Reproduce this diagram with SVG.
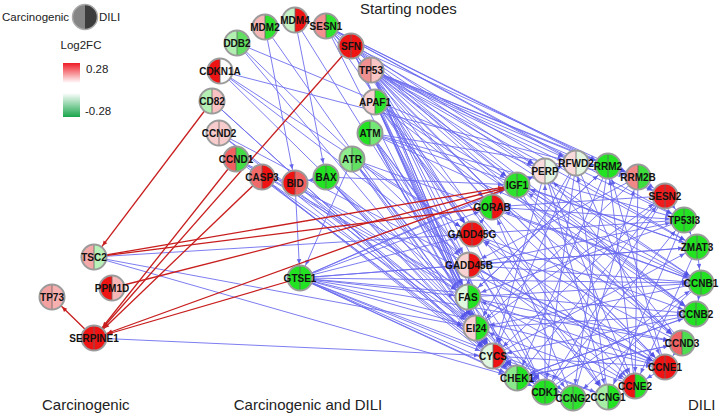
<svg xmlns="http://www.w3.org/2000/svg" xmlns:xlink="http://www.w3.org/1999/xlink" width="720" height="416" viewBox="0 0 720 416">
<style>
.e{stroke:#6c6cf0;stroke-width:1;opacity:.88;marker-end:url(#ab)}
.r{stroke:#c81e1e;stroke-width:1.3;marker-end:url(#ar)}
.t{font:bold 10px "Liberation Sans",Arial,sans-serif;text-anchor:middle;fill:#111}
.lb{font:15px "Liberation Sans",Arial,sans-serif;fill:#222}
.lg{font:11.5px "Liberation Sans",Arial,sans-serif;fill:#222}
</style>
<defs>
<marker id="ab" markerUnits="userSpaceOnUse" markerWidth="8" markerHeight="8" refX="19" refY="2.25" orient="auto" overflow="visible"><path d="M0,0L5,2.25L0,4.5z" fill="#5050e6"/></marker>
<marker id="ar" markerUnits="userSpaceOnUse" markerWidth="8" markerHeight="8" refX="19" refY="2.25" orient="auto" overflow="visible"><path d="M0,0L5,2.25L0,4.5z" fill="#c81e1e"/></marker>
<path id="L" d="M0,-12.5A12.5,12.5 0 0 0 0,12.5Z"/>
<path id="R" d="M0,-12.5A12.5,12.5 0 0 1 0,12.5Z"/>
<g id="ring"><line x1="0" y1="-12.5" x2="0" y2="12.5" stroke="#666" stroke-width="0.8"/><circle r="12.5" fill="none" stroke="#9b9b9b" stroke-width="2"/></g>
<linearGradient id="gr" x1="0" y1="0" x2="0" y2="1"><stop offset="0" stop-color="#ee1c25"/><stop offset="1" stop-color="#fff"/></linearGradient>
<linearGradient id="gg" x1="0" y1="0" x2="0" y2="1"><stop offset="0" stop-color="#fff"/><stop offset="1" stop-color="#19a64a"/></linearGradient>
</defs>
<rect width="720" height="416" fill="#fff"/>

<g id="legend">
<text class="lg" x="2" y="21">Carcinogenic</text>
<g transform="translate(85,17)"><use href="#L" fill="#858585"/><use href="#R" fill="#3c3c3c"/><circle r="12.5" fill="none" stroke="#aaa" stroke-width="1.5"/></g>
<text class="lg" x="99" y="21">DILI</text>
<text class="lg" x="81" y="49" text-anchor="middle">Log2FC</text>
<rect x="63" y="63" width="17" height="20" fill="url(#gr)"/>
<rect x="63" y="93" width="17" height="24" fill="url(#gg)"/>
<text class="lg" x="86" y="73">0.28</text>
<text class="lg" x="85" y="115">-0.28</text>
</g>

<g id="labels">
<text class="lb" x="360" y="14">Starting nodes</text>
<text class="lb" x="42" y="410">Carcinogenic</text>
<text class="lb" x="308" y="410" text-anchor="middle">Carcinogenic and DILI</text>
<text class="lb" x="688" y="410">DILI</text>
</g>

<g id="connectors">
<line class="e" x1="265" y1="27" x2="295" y2="183"/>
<line class="e" x1="265" y1="27" x2="476" y2="328"/>
<line class="e" x1="295" y1="20" x2="326" y2="177"/>
<line class="e" x1="295" y1="20" x2="468" y2="297"/>
<line class="e" x1="237" y1="43" x2="545" y2="171"/>
<line class="e" x1="237" y1="43" x2="469" y2="265"/>
<line class="e" x1="237" y1="43" x2="476" y2="328"/>
<line class="e" x1="220" y1="71" x2="576" y2="163"/>
<line class="e" x1="220" y1="71" x2="635" y2="386"/>
<line class="e" x1="220" y1="71" x2="545" y2="392"/>
<line class="e" x1="220" y1="71" x2="472" y2="234"/>
<line class="e" x1="212" y1="101" x2="493" y2="356"/>
<line class="e" x1="212" y1="101" x2="517" y2="378"/>
<line class="e" x1="219" y1="133" x2="545" y2="392"/>
<line class="e" x1="219" y1="133" x2="573" y2="398"/>
<line class="e" x1="219" y1="133" x2="665" y2="367"/>
<line class="e" x1="236" y1="159" x2="545" y2="392"/>
<line class="e" x1="236" y1="159" x2="665" y2="367"/>
<line class="e" x1="236" y1="159" x2="635" y2="386"/>
<line class="e" x1="236" y1="159" x2="468" y2="297"/>
<line class="e" x1="262" y1="177" x2="493" y2="356"/>
<line class="e" x1="262" y1="177" x2="476" y2="328"/>
<line class="e" x1="262" y1="177" x2="517" y2="378"/>
<line class="e" x1="295" y1="183" x2="300" y2="278"/>
<line class="e" x1="295" y1="183" x2="493" y2="356"/>
<line class="e" x1="295" y1="183" x2="476" y2="328"/>
<line class="e" x1="295" y1="183" x2="468" y2="297"/>
<line class="e" x1="326" y1="177" x2="295" y2="183"/>
<line class="e" x1="326" y1="177" x2="493" y2="356"/>
<line class="e" x1="326" y1="177" x2="476" y2="328"/>
<line class="e" x1="326" y1="177" x2="517" y2="378"/>
<line class="e" x1="326" y1="177" x2="468" y2="297"/>
<line class="e" x1="326" y1="177" x2="517" y2="185"/>
<line class="e" x1="352" y1="159" x2="300" y2="278"/>
<line class="e" x1="352" y1="159" x2="517" y2="378"/>
<line class="e" x1="352" y1="159" x2="545" y2="392"/>
<line class="e" x1="352" y1="159" x2="493" y2="356"/>
<line class="e" x1="352" y1="159" x2="468" y2="297"/>
<line class="e" x1="352" y1="159" x2="701" y2="283"/>
<line class="e" x1="352" y1="159" x2="472" y2="234"/>
<line class="e" x1="370" y1="133" x2="517" y2="378"/>
<line class="e" x1="370" y1="133" x2="545" y2="392"/>
<line class="e" x1="370" y1="133" x2="573" y2="398"/>
<line class="e" x1="370" y1="133" x2="469" y2="265"/>
<line class="e" x1="370" y1="133" x2="476" y2="328"/>
<line class="e" x1="370" y1="133" x2="701" y2="283"/>
<line class="e" x1="370" y1="133" x2="638" y2="177"/>
<line class="e" x1="370" y1="133" x2="493" y2="356"/>
<line class="e" x1="370" y1="133" x2="684" y2="220"/>
<line class="e" x1="370" y1="133" x2="697" y2="247"/>
<line class="e" x1="375" y1="102" x2="493" y2="356"/>
<line class="e" x1="375" y1="102" x2="476" y2="328"/>
<line class="e" x1="375" y1="102" x2="468" y2="297"/>
<line class="e" x1="375" y1="102" x2="517" y2="378"/>
<line class="e" x1="375" y1="102" x2="696" y2="314"/>
<line class="e" x1="375" y1="102" x2="635" y2="386"/>
<line class="e" x1="375" y1="102" x2="517" y2="185"/>
<line class="e" x1="375" y1="102" x2="682" y2="343"/>
<line class="e" x1="375" y1="102" x2="608" y2="397"/>
<line class="e" x1="375" y1="102" x2="472" y2="234"/>
<line class="e" x1="371" y1="70" x2="545" y2="171"/>
<line class="e" x1="371" y1="70" x2="576" y2="163"/>
<line class="e" x1="371" y1="70" x2="608" y2="166"/>
<line class="e" x1="371" y1="70" x2="638" y2="177"/>
<line class="e" x1="371" y1="70" x2="684" y2="220"/>
<line class="e" x1="371" y1="70" x2="697" y2="247"/>
<line class="e" x1="371" y1="70" x2="701" y2="283"/>
<line class="e" x1="371" y1="70" x2="696" y2="314"/>
<line class="e" x1="371" y1="70" x2="665" y2="367"/>
<line class="e" x1="371" y1="70" x2="545" y2="392"/>
<line class="e" x1="371" y1="70" x2="517" y2="378"/>
<line class="e" x1="371" y1="70" x2="493" y2="356"/>
<line class="e" x1="371" y1="70" x2="476" y2="328"/>
<line class="e" x1="371" y1="70" x2="468" y2="297"/>
<line class="e" x1="371" y1="70" x2="469" y2="265"/>
<line class="e" x1="371" y1="70" x2="472" y2="234"/>
<line class="e" x1="371" y1="70" x2="492" y2="207"/>
<line class="e" x1="371" y1="70" x2="517" y2="185"/>
<line class="e" x1="371" y1="70" x2="665" y2="196"/>
<line class="e" x1="371" y1="70" x2="608" y2="397"/>
<line class="e" x1="371" y1="70" x2="682" y2="343"/>
<line class="e" x1="351" y1="46" x2="701" y2="283"/>
<line class="e" x1="351" y1="46" x2="697" y2="247"/>
<line class="e" x1="351" y1="46" x2="638" y2="177"/>
<line class="e" x1="351" y1="46" x2="682" y2="343"/>
<line class="e" x1="351" y1="46" x2="468" y2="297"/>
<line class="e" x1="351" y1="46" x2="696" y2="314"/>
<line class="e" x1="351" y1="46" x2="476" y2="328"/>
<line class="e" x1="351" y1="46" x2="472" y2="234"/>
<line class="e" x1="326" y1="26" x2="608" y2="166"/>
<line class="e" x1="326" y1="26" x2="576" y2="163"/>
<line class="e" x1="326" y1="26" x2="545" y2="171"/>
<line class="e" x1="326" y1="26" x2="665" y2="196"/>
<line class="e" x1="326" y1="26" x2="684" y2="220"/>
<line class="e" x1="326" y1="26" x2="517" y2="185"/>
<line class="e" x1="326" y1="26" x2="472" y2="234"/>
<line class="e" x1="326" y1="26" x2="492" y2="207"/>
<line class="e" x1="326" y1="26" x2="665" y2="367"/>
<line class="e" x1="326" y1="26" x2="493" y2="356"/>
<line class="e" x1="300" y1="278" x2="476" y2="328"/>
<line class="e" x1="300" y1="278" x2="468" y2="297"/>
<line class="e" x1="300" y1="278" x2="493" y2="356"/>
<line class="e" x1="300" y1="278" x2="517" y2="378"/>
<line class="e" x1="300" y1="278" x2="545" y2="392"/>
<line class="e" x1="300" y1="278" x2="701" y2="283"/>
<line class="e" x1="300" y1="278" x2="696" y2="314"/>
<line class="e" x1="300" y1="278" x2="469" y2="265"/>
<line class="e" x1="300" y1="278" x2="472" y2="234"/>
<line class="e" x1="300" y1="278" x2="517" y2="185"/>
<line class="e" x1="300" y1="278" x2="492" y2="207"/>
<line class="e" x1="300" y1="278" x2="545" y2="171"/>
<line class="e" x1="300" y1="278" x2="665" y2="367"/>
<line class="e" x1="300" y1="278" x2="608" y2="397"/>
<line class="e" x1="300" y1="278" x2="697" y2="247"/>
<line class="e" x1="300" y1="278" x2="682" y2="343"/>
<line class="e" x1="300" y1="278" x2="573" y2="398"/>
<line class="e" x1="94" y1="257" x2="472" y2="234"/>
<line class="e" x1="94" y1="257" x2="476" y2="328"/>
<line class="e" x1="94" y1="257" x2="517" y2="378"/>
<line class="e" x1="94" y1="338" x2="493" y2="356"/>
<line class="e" x1="517" y1="185" x2="545" y2="171"/>
<line class="e" x1="545" y1="171" x2="576" y2="163"/>
<line class="e" x1="576" y1="163" x2="608" y2="166"/>
<line class="e" x1="608" y1="166" x2="638" y2="177"/>
<line class="e" x1="638" y1="177" x2="665" y2="196"/>
<line class="e" x1="665" y1="196" x2="684" y2="220"/>
<line class="e" x1="684" y1="220" x2="697" y2="247"/>
<line class="e" x1="697" y1="247" x2="701" y2="283"/>
<line class="e" x1="701" y1="283" x2="696" y2="314"/>
<line class="e" x1="682" y1="343" x2="665" y2="367"/>
<line class="e" x1="665" y1="367" x2="635" y2="386"/>
<line class="e" x1="493" y1="356" x2="476" y2="328"/>
<line class="e" x1="476" y1="328" x2="468" y2="297"/>
<line class="e" x1="468" y1="297" x2="469" y2="265"/>
<line class="e" x1="472" y1="234" x2="492" y2="207"/>
<line class="e" x1="517" y1="185" x2="701" y2="283"/>
<line class="e" x1="517" y1="185" x2="682" y2="343"/>
<line class="e" x1="517" y1="185" x2="635" y2="386"/>
<line class="e" x1="545" y1="171" x2="635" y2="386"/>
<line class="e" x1="545" y1="171" x2="608" y2="397"/>
<line class="e" x1="545" y1="171" x2="493" y2="356"/>
<line class="e" x1="576" y1="163" x2="545" y2="392"/>
<line class="e" x1="576" y1="163" x2="665" y2="367"/>
<line class="e" x1="576" y1="163" x2="493" y2="356"/>
<line class="e" x1="576" y1="163" x2="476" y2="328"/>
<line class="e" x1="608" y1="166" x2="517" y2="378"/>
<line class="e" x1="608" y1="166" x2="573" y2="398"/>
<line class="e" x1="608" y1="166" x2="468" y2="297"/>
<line class="e" x1="638" y1="177" x2="476" y2="328"/>
<line class="e" x1="638" y1="177" x2="635" y2="386"/>
<line class="e" x1="638" y1="177" x2="469" y2="265"/>
<line class="e" x1="665" y1="196" x2="492" y2="207"/>
<line class="e" x1="665" y1="196" x2="493" y2="356"/>
<line class="e" x1="665" y1="196" x2="545" y2="392"/>
<line class="e" x1="684" y1="220" x2="468" y2="297"/>
<line class="e" x1="684" y1="220" x2="608" y2="397"/>
<line class="e" x1="684" y1="220" x2="472" y2="234"/>
<line class="e" x1="697" y1="247" x2="469" y2="265"/>
<line class="e" x1="697" y1="247" x2="635" y2="386"/>
<line class="e" x1="697" y1="247" x2="517" y2="185"/>
<line class="e" x1="701" y1="283" x2="476" y2="328"/>
<line class="e" x1="701" y1="283" x2="492" y2="207"/>
<line class="e" x1="701" y1="283" x2="573" y2="398"/>
<line class="e" x1="696" y1="314" x2="493" y2="356"/>
<line class="e" x1="696" y1="314" x2="517" y2="185"/>
<line class="e" x1="696" y1="314" x2="517" y2="378"/>
<line class="e" x1="682" y1="343" x2="517" y2="378"/>
<line class="e" x1="682" y1="343" x2="545" y2="171"/>
<line class="e" x1="682" y1="343" x2="472" y2="234"/>
<line class="e" x1="665" y1="367" x2="472" y2="234"/>
<line class="e" x1="665" y1="367" x2="468" y2="297"/>
<line class="e" x1="665" y1="367" x2="608" y2="166"/>
<line class="e" x1="635" y1="386" x2="608" y2="166"/>
<line class="e" x1="635" y1="386" x2="476" y2="328"/>
<line class="e" x1="608" y1="397" x2="576" y2="163"/>
<line class="e" x1="608" y1="397" x2="493" y2="356"/>
<line class="e" x1="573" y1="398" x2="638" y2="177"/>
<line class="e" x1="573" y1="398" x2="492" y2="207"/>
<line class="e" x1="545" y1="392" x2="684" y2="220"/>
<line class="e" x1="545" y1="392" x2="701" y2="283"/>
<line class="e" x1="545" y1="392" x2="545" y2="171"/>
<line class="e" x1="517" y1="378" x2="696" y2="314"/>
<line class="e" x1="517" y1="378" x2="682" y2="343"/>
<line class="e" x1="517" y1="378" x2="665" y2="196"/>
<line class="e" x1="493" y1="356" x2="697" y2="247"/>
<line class="e" x1="493" y1="356" x2="665" y2="367"/>
<line class="e" x1="476" y1="328" x2="665" y2="196"/>
<line class="e" x1="476" y1="328" x2="696" y2="314"/>
<line class="e" x1="468" y1="297" x2="701" y2="283"/>
<line class="e" x1="468" y1="297" x2="608" y2="166"/>
<line class="e" x1="468" y1="297" x2="682" y2="343"/>
<line class="e" x1="469" y1="265" x2="701" y2="283"/>
<line class="e" x1="469" y1="265" x2="665" y2="367"/>
<line class="e" x1="469" y1="265" x2="684" y2="220"/>
<line class="e" x1="472" y1="234" x2="696" y2="314"/>
<line class="e" x1="472" y1="234" x2="545" y2="392"/>
<line class="e" x1="492" y1="207" x2="684" y2="220"/>
<line class="e" x1="492" y1="207" x2="608" y2="397"/>
<line class="e" x1="492" y1="207" x2="665" y2="367"/>
<line class="r" x1="212" y1="101" x2="94" y2="257"/>
<line class="r" x1="351" y1="46" x2="94" y2="338"/>
<line class="r" x1="236" y1="159" x2="94" y2="338"/>
<line class="r" x1="262" y1="177" x2="94" y2="338"/>
<line class="r" x1="300" y1="278" x2="94" y2="338"/>
<line class="r" x1="517" y1="185" x2="94" y2="338"/>
<line class="r" x1="94" y1="257" x2="517" y2="185"/>
<line class="r" x1="94" y1="257" x2="492" y2="207"/>
<line class="r" x1="112" y1="288" x2="517" y2="185"/>
<line class="r" x1="94" y1="338" x2="52" y2="297"/>
</g>

<g id="MDM2" transform="translate(265,27)"><use href="#L" fill="#f5b6b6"/><use href="#R" fill="#2ee32e"/><use href="#ring"/><text class="t" y="3.5">MDM2</text></g>
<g id="MDM4" transform="translate(295,20)"><use href="#L" fill="#c6f3c6"/><use href="#R" fill="#ee1414"/><use href="#ring"/><text class="t" y="3.5">MDM4</text></g>
<g id="SESN1" transform="translate(326,26)"><use href="#L" fill="#f29090"/><use href="#R" fill="#2ee32e"/><use href="#ring"/><text class="t" y="3.5">SESN1</text></g>
<g id="DDB2" transform="translate(237,43)"><use href="#L" fill="#b2f0b2"/><use href="#R" fill="#62df62"/><use href="#ring"/><text class="t" y="3.5">DDB2</text></g>
<g id="SFN" transform="translate(351,46)"><use href="#L" fill="#ee1414"/><use href="#R" fill="#ee1414"/><use href="#ring"/><text class="t" y="3.5">SFN</text></g>
<g id="TP53" transform="translate(371,70)"><use href="#L" fill="#f09090"/><use href="#R" fill="#f8c4c4"/><use href="#ring"/><text class="t" y="3.5">TP53</text></g>
<g id="APAF1" transform="translate(375,102)"><use href="#L" fill="#f8d2d2"/><use href="#R" fill="#2ee32e"/><use href="#ring"/><text class="t" y="3.5">APAF1</text></g>
<g id="ATM" transform="translate(370,133)"><use href="#L" fill="#22e222"/><use href="#R" fill="#74e874"/><use href="#ring"/><text class="t" y="3.5">ATM</text></g>
<g id="ATR" transform="translate(352,159)"><use href="#L" fill="#8eec8e"/><use href="#R" fill="#62e062"/><use href="#ring"/><text class="t" y="3.5">ATR</text></g>
<g id="CDKN1A" transform="translate(220,71)"><use href="#L" fill="#ee1414"/><use href="#R" fill="#fafafa"/><use href="#ring"/><text class="t" y="3.5">CDKN1A</text></g>
<g id="CD82" transform="translate(212,101)"><use href="#L" fill="#b4f0b4"/><use href="#R" fill="#f8c2c2"/><use href="#ring"/><text class="t" y="3.5">CD82</text></g>
<g id="CCND2" transform="translate(219,133)"><use href="#L" fill="#f8cccc"/><use href="#R" fill="#f8cccc"/><use href="#ring"/><text class="t" y="3.5">CCND2</text></g>
<g id="CCND1" transform="translate(236,159)"><use href="#L" fill="#f06060"/><use href="#R" fill="#44dc44"/><use href="#ring"/><text class="t" y="3.5">CCND1</text></g>
<g id="CASP3" transform="translate(262,177)"><use href="#L" fill="#f06a6a"/><use href="#R" fill="#ee1414"/><use href="#ring"/><text class="t" y="3.5">CASP3</text></g>
<g id="BID" transform="translate(295,183)"><use href="#L" fill="#ee1414"/><use href="#R" fill="#f06262"/><use href="#ring"/><text class="t" y="3.5">BID</text></g>
<g id="BAX" transform="translate(326,177)"><use href="#L" fill="#22e222"/><use href="#R" fill="#22e222"/><use href="#ring"/><text class="t" y="3.5">BAX</text></g>
<g id="GTSE1" transform="translate(300,278)"><use href="#L" fill="#22e222"/><use href="#R" fill="#22e222"/><use href="#ring"/><text class="t" y="3.5">GTSE1</text></g>
<g id="IGF1" transform="translate(517,185)"><use href="#L" fill="#2ee32e"/><use href="#R" fill="#22e222"/><use href="#ring"/><text class="t" y="3.5">IGF1</text></g>
<g id="GORAB" transform="translate(492,207)"><use href="#L" fill="#22e222"/><use href="#R" fill="#ee1414"/><use href="#ring"/><text class="t" y="3.5">GORAB</text></g>
<g id="GADD45G" transform="translate(472,234)"><use href="#L" fill="#ee1414"/><use href="#R" fill="#ee1414"/><use href="#ring"/><text class="t" y="3.5">GADD45G</text></g>
<g id="GADD45B" transform="translate(469,265)"><use href="#L" fill="#f8d2d2"/><use href="#R" fill="#ee1414"/><use href="#ring"/><text class="t" y="3.5">GADD45B</text></g>
<g id="FAS" transform="translate(468,297)"><use href="#L" fill="#dff6df"/><use href="#R" fill="#22e222"/><use href="#ring"/><text class="t" y="3.5">FAS</text></g>
<g id="EI24" transform="translate(476,328)"><use href="#L" fill="#f8d2d2"/><use href="#R" fill="#22e222"/><use href="#ring"/><text class="t" y="3.5">EI24</text></g>
<g id="CYCS" transform="translate(493,356)"><use href="#L" fill="#e0f8e0"/><use href="#R" fill="#ee1414"/><use href="#ring"/><text class="t" y="3.5">CYCS</text></g>
<g id="CHEK1" transform="translate(517,378)"><use href="#L" fill="#8ae88a"/><use href="#R" fill="#22e222"/><use href="#ring"/><text class="t" y="3.5">CHEK1</text></g>
<g id="CDK1" transform="translate(545,392)"><use href="#L" fill="#22e222"/><use href="#R" fill="#22e222"/><use href="#ring"/><text class="t" y="3.5">CDK1</text></g>
<g id="CCNG2" transform="translate(573,398)"><use href="#L" fill="#3ae23a"/><use href="#R" fill="#2ee32e"/><use href="#ring"/><text class="t" y="3.5">CCNG2</text></g>
<g id="CCNG1" transform="translate(608,397)"><use href="#L" fill="#a6eea6"/><use href="#R" fill="#22e222"/><use href="#ring"/><text class="t" y="3.5">CCNG1</text></g>
<g id="CCNE2" transform="translate(635,386)"><use href="#L" fill="#ee1414"/><use href="#R" fill="#22e222"/><use href="#ring"/><text class="t" y="3.5">CCNE2</text></g>
<g id="CCNE1" transform="translate(665,367)"><use href="#L" fill="#ee1414"/><use href="#R" fill="#ee1414"/><use href="#ring"/><text class="t" y="3.5">CCNE1</text></g>
<g id="CCND3" transform="translate(682,343)"><use href="#L" fill="#ee6464"/><use href="#R" fill="#50dc50"/><use href="#ring"/><text class="t" y="3.5">CCND3</text></g>
<g id="CCNB2" transform="translate(696,314)"><use href="#L" fill="#22e222"/><use href="#R" fill="#22e222"/><use href="#ring"/><text class="t" y="3.5">CCNB2</text></g>
<g id="CCNB1" transform="translate(701,283)"><use href="#L" fill="#22e222"/><use href="#R" fill="#22e222"/><use href="#ring"/><text class="t" y="3.5">CCNB1</text></g>
<g id="ZMAT3" transform="translate(697,247)"><use href="#L" fill="#22e222"/><use href="#R" fill="#22e222"/><use href="#ring"/><text class="t" y="3.5">ZMAT3</text></g>
<g id="TP53I3" transform="translate(684,220)"><use href="#L" fill="#22e222"/><use href="#R" fill="#22e222"/><use href="#ring"/><text class="t" y="3.5">TP53I3</text></g>
<g id="SESN2" transform="translate(665,196)"><use href="#L" fill="#ee1c1c"/><use href="#R" fill="#ee1c1c"/><use href="#ring"/><text class="t" y="3.5">SESN2</text></g>
<g id="RRM2B" transform="translate(638,177)"><use href="#L" fill="#f08888"/><use href="#R" fill="#3ddd3d"/><use href="#ring"/><text class="t" y="3.5">RRM2B</text></g>
<g id="RRM2" transform="translate(608,166)"><use href="#L" fill="#22e222"/><use href="#R" fill="#22e222"/><use href="#ring"/><text class="t" y="3.5">RRM2</text></g>
<g id="RFWD2" transform="translate(576,163)"><use href="#L" fill="#f8dada"/><use href="#R" fill="#e2f6e2"/><use href="#ring"/><text class="t" y="3.5">RFWD2</text></g>
<g id="PERP" transform="translate(545,171)"><use href="#L" fill="#f8dcdc"/><use href="#R" fill="#e4f6e4"/><use href="#ring"/><text class="t" y="3.5">PERP</text></g>
<g id="TSC2" transform="translate(94,257)"><use href="#L" fill="#f4a8a8"/><use href="#R" fill="#b8f2b8"/><use href="#ring"/><text class="t" y="3.5">TSC2</text></g>
<g id="PPM1D" transform="translate(112,288)"><use href="#L" fill="#ee1414"/><use href="#R" fill="#f8b8b8"/><use href="#ring"/><text class="t" y="3.5">PPM1D</text></g>
<g id="TP73" transform="translate(52,297)"><use href="#L" fill="#f3a0a0"/><use href="#R" fill="#f6b0b0"/><use href="#ring"/><text class="t" y="3.5">TP73</text></g>
<g id="SERPINE1" transform="translate(94,338)"><use href="#L" fill="#ee1414"/><use href="#R" fill="#ee1414"/><use href="#ring"/><text class="t" y="3.5">SERPINE1</text></g>
</svg>
